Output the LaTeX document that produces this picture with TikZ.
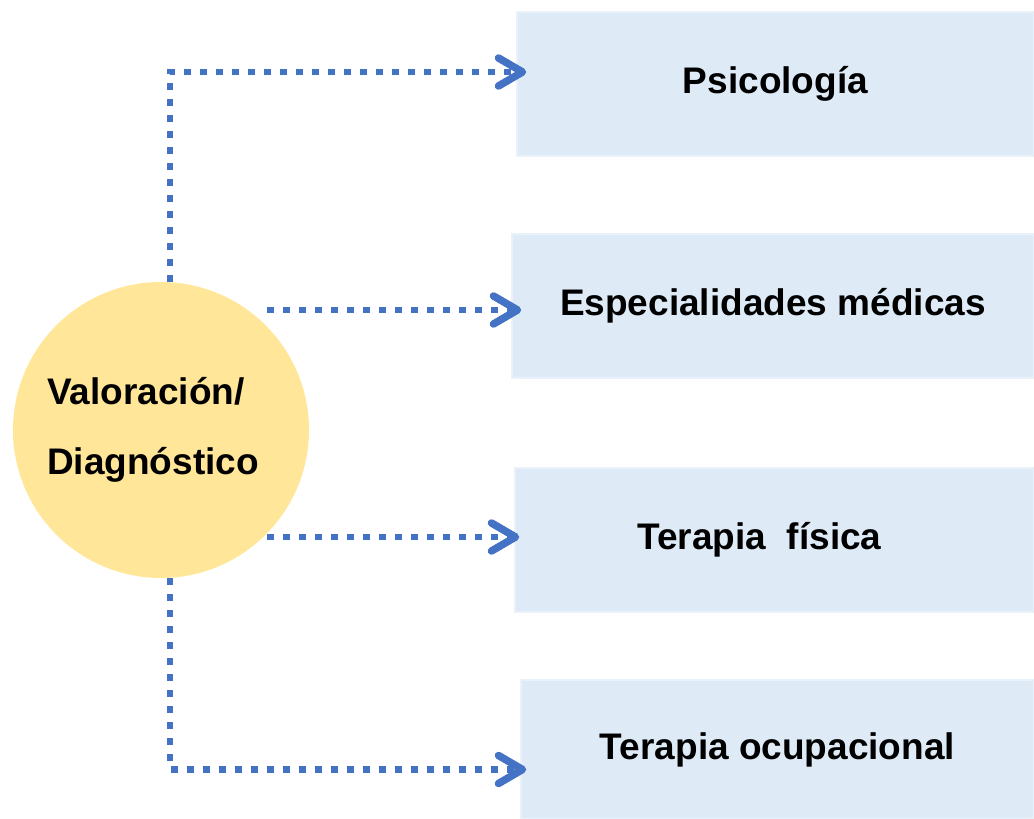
\documentclass[tikz,border=0pt]{standalone}
\usepackage{fontspec}
\setmainfont{Liberation Sans}
\usetikzlibrary{arrows.meta}

\definecolor{diagfill}{HTML}{FFE699}
\definecolor{areafill}{HTML}{DEEAF6}
\definecolor{arealine}{HTML}{E9F2FB}
\definecolor{linkblue}{HTML}{4472C4}

\begin{document}
\begin{tikzpicture}[x=1pt, y=-1pt,
    area/.style={rectangle, fill=areafill, draw=arealine, line width=1.5pt, minimum height=144pt, font=\fontsize{37}{44}\selectfont\bfseries},
    link/.style={draw=linkblue, line width=6.5pt, dash pattern=on 7pt off 9pt, -{Straight Barb[length=24pt, width=28pt, line width=7.5pt, round]}}]
    \useasboundingbox (0,0) rectangle (1034,819);
    \node[circle, fill=diagfill, minimum size=296pt, align=left, font=\fontsize{37}{70}\selectfont\bfseries] (diag) at (161,430) {Valoración/\\Diagnóstico\hspace*{16pt}};
    \node[area, minimum width=517pt] (psico) at (775.5,84) {Psicología};
    \node[area, minimum width=522pt] (espec) at (773,306) {Especialidades médicas};
    \node[area, minimum width=519pt] (fisica) at (774.5,540) {Terapia\ \ física\hspace*{30pt}};
    \node[area, minimum width=513pt, minimum height=139pt] (ocup) at (777.5,749.5) {Terapia ocupacional};
    % puntas de flecha
    \coordinate (e2) at ([shift={(10,4)}]espec.west);
    \coordinate (e3) at ([shift={(5,-3)}]fisica.west);
    \draw[link] ([xshift=9pt]diag.north) |- ([shift={(10,-12)}]psico.west);
    \draw[link] ([xshift=106pt]diag.center |- e2) -- (e2);
    \draw[link] ([xshift=106pt]diag.center |- e3) -- (e3);
    \draw[link] ([xshift=9pt]diag.south) |- ([shift={(6,20)}]ocup.west);
\end{tikzpicture}
\end{document}
